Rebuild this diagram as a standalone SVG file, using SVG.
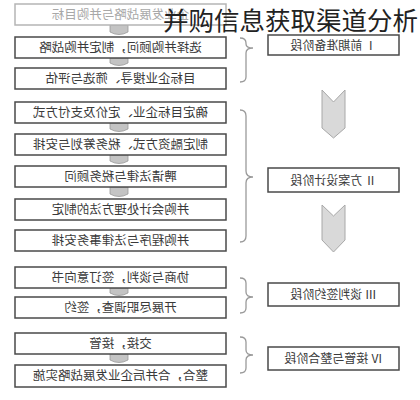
<svg xmlns="http://www.w3.org/2000/svg" width="420" height="400" viewBox="0 0 420 400">
<style>
.box{fill:#fff;stroke:#4a4a4a;stroke-width:1.5}
.lbox{fill:#fff;stroke:#b5b5b5;stroke-width:1.5}
.t{font-family:"Noto Sans CJK SC","Noto Sans",sans-serif;font-size:12.5px;fill:#3a3a3a;text-anchor:middle}
.lt{fill:#a8a8a8}
.st{font-family:"Noto Sans CJK SC","Noto Sans",sans-serif;font-size:12px;fill:#3a3a3a;text-anchor:middle}
.tab{fill:#c4c4c4;stroke:#9a9a9a;stroke-width:0.8}
.brace{fill:none;stroke:#9a9a9a;stroke-width:1.3}
.chev{fill:#d9d9d9;stroke:#a8a8a8;stroke-width:1}
.title{font-family:"Noto Sans CJK SC","Noto Sans",sans-serif;font-size:25.5px;fill:#222}
</style>
<rect width="420" height="400" fill="#fff"/>
<g id="connectors">
<path class="tab" d="M110,25 L128,25 L128,32 Q119,37 110,32 Z"/>
<path class="tab" d="M110,58 L128,58 L128,63 Q119,68 110,63 Z"/>
<path class="tab" d="M110,123 L128,123 L128,129 Q119,134 110,129 Z"/>
<path class="tab" d="M110,155 L128,155 L128,161 Q119,166 110,161 Z"/>
<path class="tab" d="M110,187 L128,187 L128,194 Q119,199 110,194 Z"/>
<path class="tab" d="M110,288 L128,288 L128,293 Q119,298 110,293 Z"/>
<path class="tab" d="M110,354 L128,354 L128,360 Q119,365 110,360 Z"/>
<path class="brace" d="M240,38 Q246,38 246,43 L246,44 Q246,48 253,48 Q246,48 246,53 L246,77 Q246,82 240,82"/>
<path class="brace" d="M240,110 Q246,110 246,116 L246,171 Q246,177 253,177 Q246,177 246,183 L246,236 Q246,242 240,242"/>
<path class="brace" d="M240,278 Q246,278 246,283 L246,292 Q246,297 253,297 Q246,297 246,302 L246,308 Q246,313 240,313"/>
<path class="brace" d="M240,337 Q246,337 246,342 L246,350 Q246,355 253,355 Q246,355 246,360 L246,368 Q246,373 240,373"/>
<polygon class="chev" points="322,90 333.5,102 345,90 345,128 333.5,138 322,128"/>
<polygon class="chev" points="322,205 333.5,216 345,205 345,240 333.5,252 322,240"/>
</g>
<g id="step1"><rect class="lbox" x="15" y="4" width="211" height="21"/><text class="t lt" x="120.5" y="19" transform="matrix(-1 0 0 1 241 0)">企业发展战略与并购目标</text></g>
<g id="step2"><rect class="box" x="15" y="37" width="211" height="21"/><text class="t" x="120.5" y="52" transform="matrix(-1 0 0 1 241 0)">选择并购顾问，制定并购战略</text></g>
<g id="step3"><rect class="box" x="15" y="68" width="211" height="21"/><text class="t" x="120.5" y="83" transform="matrix(-1 0 0 1 241 0)">目标企业搜寻、筛选与评估</text></g>
<g id="step4"><rect class="box" x="15" y="102" width="211" height="21"/><text class="t" x="120.5" y="117" transform="matrix(-1 0 0 1 241 0)">确定目标企业、定价及支付方式</text></g>
<g id="step5"><rect class="box" x="15" y="134" width="211" height="21"/><text class="t" x="120.5" y="149" transform="matrix(-1 0 0 1 241 0)">制定融资方式、税务筹划与安排</text></g>
<g id="step6"><rect class="box" x="15" y="166" width="211" height="21"/><text class="t" x="120.5" y="181" transform="matrix(-1 0 0 1 241 0)">聘请法律与税务顾问</text></g>
<g id="step7"><rect class="box" x="15" y="199" width="211" height="21"/><text class="t" x="120.5" y="214" transform="matrix(-1 0 0 1 241 0)">并购会计处理方法的制定</text></g>
<g id="step8"><rect class="box" x="15" y="230" width="211" height="21"/><text class="t" x="120.5" y="245" transform="matrix(-1 0 0 1 241 0)">并购程序与法律事务安排</text></g>
<g id="step9"><rect class="box" x="15" y="267" width="211" height="21"/><text class="t" x="120.5" y="282" transform="matrix(-1 0 0 1 241 0)">协商与谈判，签订意向书</text></g>
<g id="step10"><rect class="box" x="15" y="297" width="211" height="21"/><text class="t" x="120.5" y="312" transform="matrix(-1 0 0 1 241 0)">开展尽职调查，签约</text></g>
<g id="step11"><rect class="box" x="15" y="333" width="211" height="21"/><text class="t" x="120.5" y="348" transform="matrix(-1 0 0 1 241 0)">交接，接管</text></g>
<g id="step12"><rect class="box" x="15" y="365" width="211" height="22"/><text class="t" x="120.5" y="380" transform="matrix(-1 0 0 1 241 0)">整合，合并后企业发展战略实施</text></g>
<g id="stage1"><rect class="box" x="268" y="35" width="131" height="20"/><text class="st" x="333.5" y="49.5" transform="matrix(-1 0 0 1 667 0)">Ⅰ 前期准备阶段</text></g>
<g id="stage2"><rect class="box" x="268" y="168" width="131" height="24"/><text class="st" x="333.5" y="184.5" transform="matrix(-1 0 0 1 667 0)">Ⅱ 方案设计阶段</text></g>
<g id="stage3"><rect class="box" x="268" y="283" width="131" height="23"/><text class="st" x="333.5" y="299" transform="matrix(-1 0 0 1 667 0)">Ⅲ 谈判签约阶段</text></g>
<g id="stage4"><rect class="box" x="268" y="347" width="131" height="23"/><text class="st" x="333.5" y="363" transform="matrix(-1 0 0 1 667 0)">Ⅳ 接管与整合阶段</text></g>
<g id="title"><text class="title" x="163" y="30">并购信息获取渠道分析</text></g>
</svg>
